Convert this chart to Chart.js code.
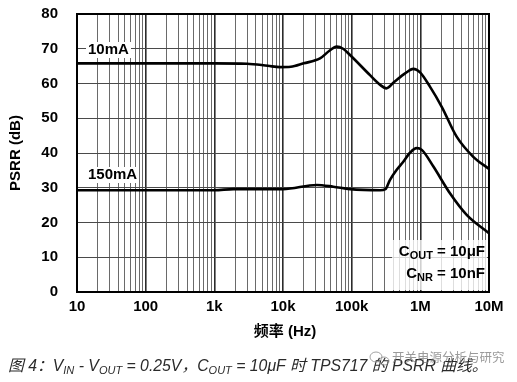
<!DOCTYPE html>
<html>
<head>
<meta charset="utf-8">
<script src="https://cdn.jsdelivr.net/npm/chart.js@4"></script>
<style>
  html, body { margin: 0; padding: 0; background: #fff; }
  #wrap { width: 517px; height: 382px; }
</style>
</head>
<body>
<div id="wrap"><canvas id="psrrChart" width="517" height="382"></canvas></div>
<script>
// frequency (Hz) and PSRR (dB)
const freq10mA = [10, 1000, 3000, 6000, 9000, 13000, 20000, 34600, 48000, 60500, 75000, 94600, 185000, 260000, 320000, 420000, 600000, 790000, 990000, 1380000, 2050000, 3380000, 5900000, 10000000];
const psrr10mA = [65.8, 65.8, 65.7, 65.1, 64.7, 64.8, 65.8, 67.2, 69.5, 70.6, 70.0, 68.2, 62.4, 59.6, 58.6, 60.5, 62.9, 64.2, 63.2, 59.1, 53.3, 44.7, 38.9, 35.4];

const freq150mA = [10, 1000, 1900, 10000, 31000, 54000, 95000, 260000, 310000, 360000, 450000, 565000, 700000, 885000, 1050000, 1550000, 2700000, 4730000, 10000000];
const psrr150mA = [29.3, 29.3, 29.6, 29.6, 30.8, 30.3, 29.6, 29.3, 29.6, 32.2, 35.1, 37.5, 40.0, 41.4, 40.9, 36.1, 28.4, 22.2, 16.9];

const decades = [10, 100, 1000, 10000, 100000, 1000000, 10000000];
const decadeLabels = ['10', '100', '1k', '10k', '100k', '1M', '10M'];
const yMin = 0, yMax = 80, yStep = 10;

const seriesNames = ['10mA', '150mA'];

const FONT = "'Liberation Sans', Arial, 'Noto Sans CJK SC', sans-serif";

// every 1..9 x 10^n grid line between 10 and 10M
const xGridValues = [];
decades.forEach((d, i) => {
    if (i === decades.length - 1) { xGridValues.push(d); return; }
    for (let m = 1; m <= 9; m++) xGridValues.push(m * d);
});
const isDecade = v => decades.some(d => Math.abs(v - d) < d * 1e-6);

const toPoints = (xs, ys) => xs.map((x, i) => ({ x: x, y: ys[i] }));

function drawRuns(ctx, runs, x, y, align) {
    // runs: [{t, font, dy}]
    let total = 0;
    runs.forEach(r => { ctx.font = r.font; r.w = ctx.measureText(r.t).width; total += r.w; });
    let cx = align === 'right' ? x - total : x;
    runs.forEach(r => {
        ctx.font = r.font;
        ctx.textAlign = 'left';
        ctx.fillText(r.t, cx, y + (r.dy || 0));
        cx += r.w;
    });
    return total;
}

const textPlugin = {
    id: 'texts',
    afterDatasetsDraw(chart) {
        const ctx = chart.ctx;
        const a = chart.chartArea;
        ctx.save();

        // curve labels
        ctx.font = 'bold 15px ' + FONT;
        ctx.textBaseline = 'middle';
        ctx.fillStyle = '#fff';
        ctx.fillRect(86, 42, 45, 16);
        ctx.fillRect(86, 167, 53, 16);
        ctx.fillStyle = '#000';
        ctx.textAlign = 'left';
        ctx.fillText(seriesNames[0], 88, 50);
        ctx.fillText(seriesNames[1], 88, 175);

        // conditions box
        ctx.fillStyle = 'rgba(255,255,255,0.78)';
        ctx.fillRect(392, 240, 95, 50);
        ctx.fillStyle = '#000';
        const big = 'bold 15px ' + FONT, small = 'bold 11px ' + FONT;
        drawRuns(ctx, [
            { t: 'C', font: big }, { t: 'OUT', font: small, dy: 4 }, { t: ' = 10μF', font: big }
        ], 485, 252, 'right');
        drawRuns(ctx, [
            { t: 'C', font: big }, { t: 'NR', font: small, dy: 4 }, { t: ' = 10nF', font: big }
        ], 485, 274, 'right');

        // frame
        ctx.strokeStyle = '#000';
        ctx.lineWidth = 2;
        ctx.strokeRect(a.left, a.top, a.right - a.left, a.bottom - a.top);
        ctx.restore();
    },
    afterDraw(chart) {
        const ctx = chart.ctx;
        const a = chart.chartArea;
        ctx.save();
        ctx.fillStyle = '#000';
        ctx.textBaseline = 'middle';

        // y title
        ctx.save();
        ctx.translate(16, (a.top + a.bottom) / 2);
        ctx.rotate(-Math.PI / 2);
        ctx.font = 'bold 15px ' + FONT;
        ctx.textAlign = 'center';
        ctx.fillText('PSRR (dB)', 0, 0);
        ctx.restore();

        // x title
        ctx.font = 'bold 15px ' + FONT;
        ctx.textAlign = 'center';
        ctx.fillText('频率 (Hz)', 285, 332);

        // caption
        ctx.fillStyle = '#2a2a2a';
        const cf = 'italic 15.8px ' + FONT, sf = 'italic 11px ' + FONT;
        ctx.textBaseline = 'alphabetic';
        drawRuns(ctx, [
            { t: '图 4：', font: cf },
            { t: 'V', font: cf }, { t: 'IN', font: sf, dy: 3 },
            { t: ' - V', font: cf }, { t: 'OUT', font: sf, dy: 3 },
            { t: ' = 0.25V，C', font: cf }, { t: 'OUT', font: sf, dy: 3 },
            { t: ' = 10μF 时 TPS717 的 PSRR 曲线。', font: cf }
        ], 8, 371, 'left');

        // watermark
        ctx.fillStyle = 'rgba(120,120,120,0.75)';
        ctx.font = '12.5px ' + FONT;
        ctx.textAlign = 'left';
        ctx.textBaseline = 'middle';
        ctx.fillText('开关电源分析与研究', 392, 359);
        ctx.strokeStyle = 'rgba(140,140,140,0.8)';
        ctx.lineWidth = 1;
        ctx.beginPath(); ctx.ellipse(376, 357, 6, 5, 0, 0, Math.PI * 2); ctx.stroke();
        ctx.beginPath(); ctx.ellipse(384, 361, 5, 4, 0, 0, Math.PI * 2); ctx.stroke();
        ctx.restore();
    }
};

new Chart(document.getElementById('psrrChart'), {
    type: 'line',
    data: {
        datasets: [
            { label: seriesNames[0], data: toPoints(freq10mA, psrr10mA), borderColor: '#000', borderWidth: 2.6, pointRadius: 0, cubicInterpolationMode: 'monotone', fill: false },
            { label: seriesNames[1], data: toPoints(freq150mA, psrr150mA), borderColor: '#000', borderWidth: 2.6, pointRadius: 0, cubicInterpolationMode: 'monotone', fill: false }
        ]
    },
    options: {
        responsive: false,
        animation: false,
        devicePixelRatio: 1,
        layout: { padding: { top: 14, right: 28, bottom: 56, left: 0 } },
        plugins: { legend: { display: false }, tooltip: { enabled: false } },
        scales: {
            x: {
                type: 'logarithmic',
                min: 10,
                max: 10000000,
                afterBuildTicks: scale => { scale.ticks = xGridValues.map(v => ({ value: v, major: isDecade(v) })); },
                afterFit: scale => { scale.height = 34; },
                ticks: {
                    autoSkip: false,
                    maxRotation: 0,
                    padding: 6,
                    color: '#000',
                    font: { family: FONT, size: 15, weight: 'bold' },
                    callback: v => { const i = decades.findIndex(d => Math.abs(v - d) < d * 1e-6); return i >= 0 ? decadeLabels[i] : ''; }
                },
                grid: {
                    drawTicks: false,
                    color: c => (c.tick && isDecade(c.tick.value)) ? '#2b2b2b' : '#6a6a6a',
                    lineWidth: c => (c.tick && isDecade(c.tick.value)) ? 1.6 : 1
                },
                border: { display: false }
            },
            y: {
                min: yMin,
                max: yMax,
                afterFit: scale => { scale.width = 77; scale.paddingTop = 0; scale.paddingBottom = 0; },
                ticks: {
                    stepSize: yStep,
                    padding: 19,
                    color: '#000',
                    font: { family: FONT, size: 15, weight: 'bold' }
                },
                grid: { drawTicks: false, color: '#4a4a4a', lineWidth: 1 },
                border: { display: false }
            }
        }
    },
    plugins: [textPlugin]
});
</script>
</body>
</html>
